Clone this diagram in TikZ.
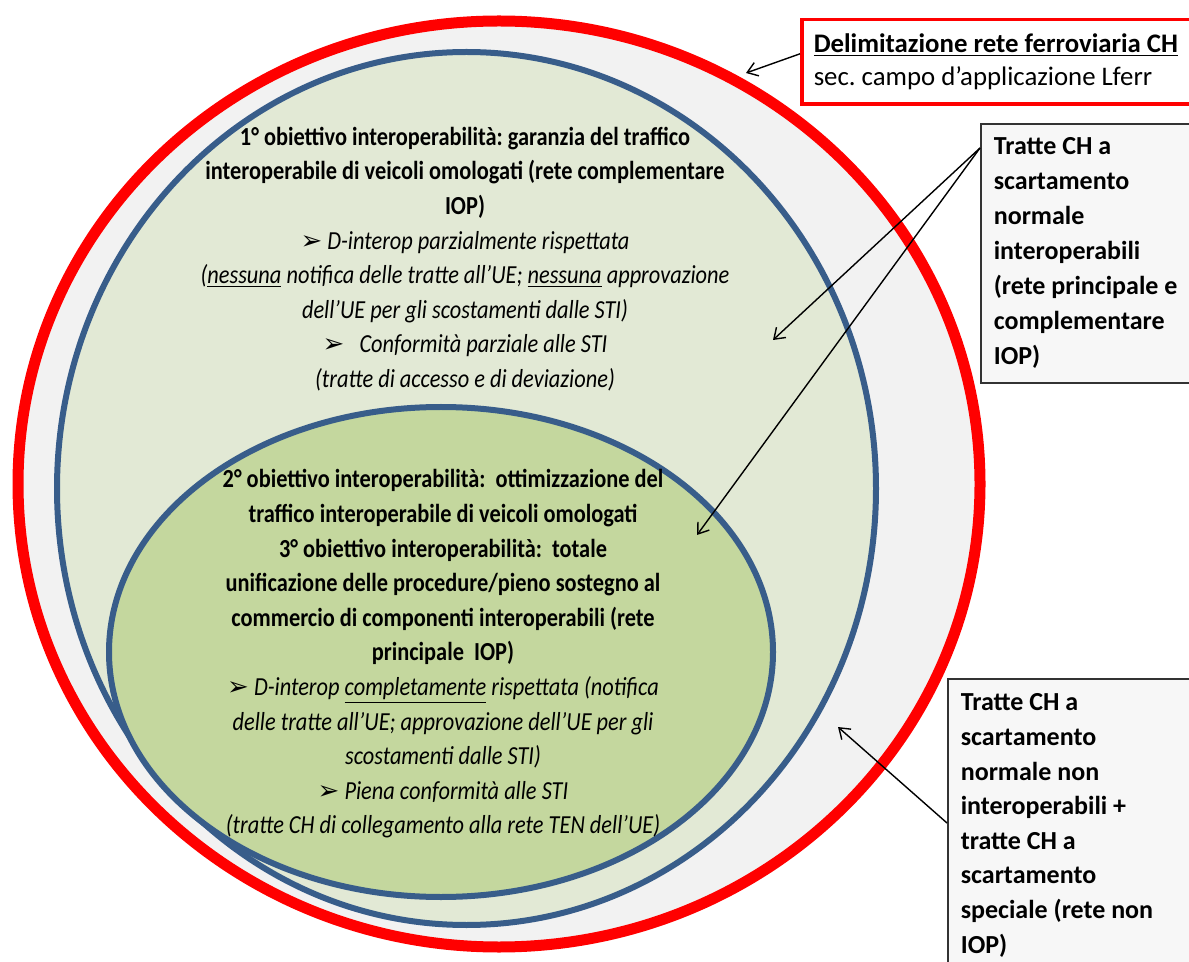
\documentclass[tikz,border=0pt]{standalone}
\usepackage{fontspec}
\setmainfont{Carlito}
\newfontfamily\tightfont[FakeStretch=0.86]{Carlito}
\newfontfamily\symfont{DejaVu Sans}
\usepackage{xcolor}
\usetikzlibrary{arrows.meta}
\definecolor{ringgray}{HTML}{F2F2F2}
\definecolor{iopblue}{HTML}{385D8A}
\definecolor{palegreen}{HTML}{E2E9D5}
\definecolor{olivegreen}{HTML}{C4D79E}
\definecolor{boxgray}{HTML}{F7F7F7}
\newcommand{\bul}{{\symfont ➢}\ }
\frenchspacing

\begin{document}
\begin{tikzpicture}[x=0.5pt,y=-0.5pt,
  ring/.style={line width=3pt,draw=iopblue},
  infobox/.style={draw=black!80,line width=0.8pt,fill=boxgray,anchor=north west,align=flush left,text width=200pt,inner xsep=6.5pt,inner ysep=6pt,font=\fontsize{13}{17.5}\selectfont\bfseries},
  pointer/.style={-{Straight Barb[length=5pt,width=7pt]},line width=0.7pt},
  goals/.style={align=center,font=\tightfont\fontsize{13}{17.3}\selectfont}]
\path[use as bounding box,clip] (0,0) rectangle (1189,962);
\draw[red,line width=5.5pt,fill=ringgray] (499,484) ellipse [x radius=481,y radius=463];
\draw[ring,fill=palegreen] (466.5,488.5) ellipse [x radius=409.5,y radius=436.5];
\draw[ring,fill=olivegreen] (441,652) ellipse [x radius=332,y radius=245];

\node[goals] (goal1) at (465,259) {\textbf{1° obiettivo interoperabilità: garanzia del traffico}\\
  \textbf{interoperabile di veicoli omologati (rete complementare}\\
  \textbf{IOP)}\\
  \textit{\bul D-interop parzialmente rispettata}\\
  \textit{(\underline{nessuna} notifica delle tratte all’UE; \underline{nessuna} approvazione}\\
  \textit{dell’UE per gli scostamenti dalle STI)}\\
  \textit{\bul\ \ Conformità parziale alle STI}\\
  \textit{(tratte di accesso e di deviazione)}};
\node[goals] (goal23) at (443,654) {\textbf{2° obiettivo interoperabilità:\ \ ottimizzazione del}\\
  \textbf{traffico interoperabile di veicoli omologati}\\
  \textbf{3° obiettivo interoperabilità:\ \ totale}\\
  \textbf{unificazione delle procedure/pieno sostegno al}\\
  \textbf{commercio di componenti interoperabili (rete}\\
  \textbf{principale\ \ IOP)}\\
  \textit{\bul D-interop \underline{completamente} rispettata (notifica}\\
  \textit{delle tratte all’UE; approvazione dell’UE per gli}\\
  \textit{scostamenti dalle STI)}\\
  \textit{\bul Piena conformità alle STI}\\
  \textit{(tratte CH di collegamento alla rete TEN dell’UE)}};

\node[draw=red,line width=1.75pt,fill=white,anchor=north west,align=flush left,text width=200pt,inner xsep=6pt,inner ysep=7pt,font=\fontsize{13.4}{16.5}\selectfont] (scope) at (800,18) {\textbf{\underline{Delimitazione rete ferroviaria CH}}\\sec. campo d’applicazione Lferr};
\node[infobox,inner ysep=7pt] (iop) at (980,123) {Tratte CH a\\scartamento\\normale\\interoperabili\\(rete principale e\\complementare\\IOP)};
\node[infobox,inner ysep=7.5pt,font=\fontsize{13}{17.3}\selectfont\bfseries] (noniop) at (947,678) {Tratte CH a\\scartamento\\normale non\\interoperabili +\\tratte CH a\\scartamento\\speciale (rete non\\IOP)};

\coordinate (ringtip) at (746,73);
\coordinate (paletip) at (773,340);
\coordinate (olivetip) at (697,535);
\coordinate (graytip) at (838,727);
\draw[pointer] ([yshift=4pt]scope.west) -- (ringtip);
\draw[pointer] ([yshift=-12.5pt]iop.north west) -- (paletip);
\draw[pointer] ([yshift=-12.5pt]iop.north west) -- (olivetip);
\draw[pointer] ([yshift=-72.5pt]noniop.north west) -- (graytip);
\end{tikzpicture}
\end{document}
